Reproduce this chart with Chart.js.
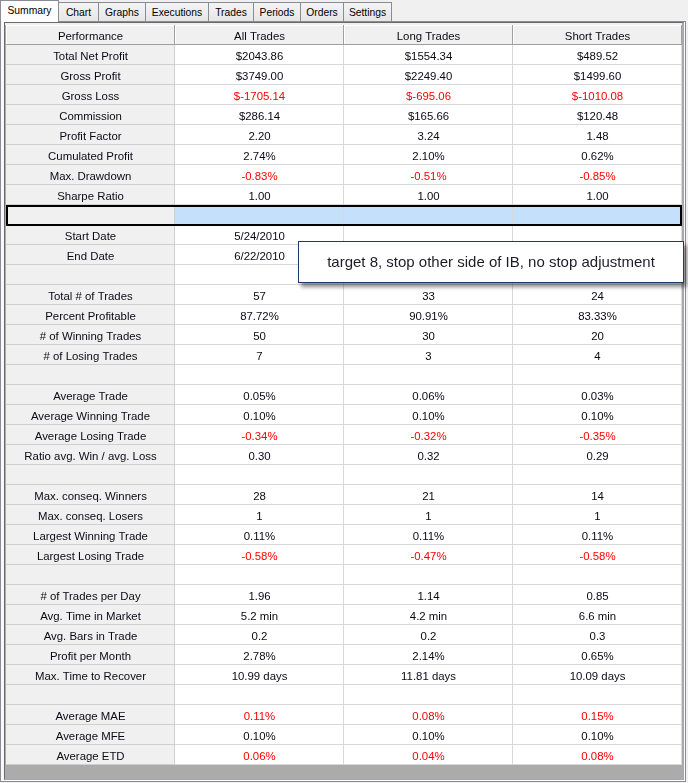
<!DOCTYPE html>
<html lang="en">
<head>
    <meta charset="UTF-8">
    <title>Performance Summary</title>
    <script src="https://cdn.jsdelivr.net/npm/chart.js"></script>
    <style>
        body { margin: 0; background: #f0f0f0; font-family: "Liberation Sans", Arial, sans-serif; }
        #page { position: relative; width: 688px; height: 783px; overflow: hidden; }
        .tab { position: absolute; top: 2px; height: 19px; box-sizing: border-box;
               border: 1px solid #898c95; border-bottom: none;
               background: linear-gradient(#f4f4f4, #e6e6e6);
               font-size: 10.3px; line-height: 19px; text-align: center; color: #000; }
        .tab.active { top: 0; height: 22px; background: #fdfdfd; z-index: 3; line-height: 20px; }
        #pane { position: absolute; left: 0; top: 21px; width: 686px; height: 761px; box-sizing: border-box;
                border: 1px solid #898c95; background: #f9f9f9; z-index: 2; }
        #grid { position: absolute; left: 4px; top: 22px; width: 680px; height: 758px; box-sizing: border-box;
                border: 1px solid #6a6a6a; border-right-color: #a8a8a8; border-bottom-color: #a8a8a8;
                background: #ababab; z-index: 2; }
        #table { position: absolute; left: 6px; top: 25px; z-index: 3; }
        #headTop { position: absolute; left: 5px; top: 23px; width: 677px; height: 2px; background: #f0f0f0; z-index: 3; }
        #note { position: absolute; left: 298px; top: 241px; width: 386px; height: 42px; box-sizing: border-box;
                border: 1px solid #1f3a68; background: #fff; z-index: 4;
                box-shadow: 3px 4px 4px rgba(0,0,0,0.45);
                font-size: 15px; line-height: 40px; text-align: center; color: #1d1d28; }
    </style>
</head>
<body>
<div id="page">
    <div class="tab active" style="left:0;width:59px;">Summary</div>
    <div class="tab" style="left:58px;width:41px;">Chart</div>
    <div class="tab" style="left:98px;width:48px;">Graphs</div>
    <div class="tab" style="left:145px;width:64px;">Executions</div>
    <div class="tab" style="left:208px;width:46px;">Trades</div>
    <div class="tab" style="left:253px;width:48px;">Periods</div>
    <div class="tab" style="left:300px;width:44px;">Orders</div>
    <div class="tab" style="left:343px;width:49px;">Settings</div>
    <div id="pane"></div>
    <div id="grid"></div>
    <div id="headTop"></div>
    <canvas id="table" width="676" height="740"></canvas>
    <div id="note">target 8, stop other side of IB, no stop adjustment</div>
</div>

<script>
    // Column headers
    const columns = ['Performance', 'All Trades', 'Long Trades', 'Short Trades'];

    // Row labels ('' = empty separator row)
    const metrics = [
        'Total Net Profit', 'Gross Profit', 'Gross Loss', 'Commission', 'Profit Factor',
        'Cumulated Profit', 'Max. Drawdown', 'Sharpe Ratio', '',
        'Start Date', 'End Date', '',
        'Total # of Trades', 'Percent Profitable', '# of Winning Trades', '# of Losing Trades', '',
        'Average Trade', 'Average Winning Trade', 'Average Losing Trade', 'Ratio avg. Win / avg. Loss', '',
        'Max. conseq. Winners', 'Max. conseq. Losers', 'Largest Winning Trade', 'Largest Losing Trade', '',
        '# of Trades per Day', 'Avg. Time in Market', 'Avg. Bars in Trade', 'Profit per Month', 'Max. Time to Recover', '',
        'Average MAE', 'Average MFE', 'Average ETD'
    ];

    const allTrades = [
        '$2043.86', '$3749.00', '$-1705.14', '$286.14', '2.20',
        '2.74%', '-0.83%', '1.00', '',
        '5/24/2010', '6/22/2010', '',
        '57', '87.72%', '50', '7', '',
        '0.05%', '0.10%', '-0.34%', '0.30', '',
        '28', '1', '0.11%', '-0.58%', '',
        '1.96', '5.2 min', '0.2', '2.78%', '10.99 days', '',
        '0.11%', '0.10%', '0.06%'
    ];

    const longTrades = [
        '$1554.34', '$2249.40', '$-695.06', '$165.66', '3.24',
        '2.10%', '-0.51%', '1.00', '',
        '', '', '',
        '33', '90.91%', '30', '3', '',
        '0.06%', '0.10%', '-0.32%', '0.32', '',
        '21', '1', '0.11%', '-0.47%', '',
        '1.14', '4.2 min', '0.2', '2.14%', '11.81 days', '',
        '0.08%', '0.10%', '0.04%'
    ];

    const shortTrades = [
        '$489.52', '$1499.60', '$-1010.08', '$120.48', '1.48',
        '0.62%', '-0.85%', '1.00', '',
        '', '', '',
        '24', '83.33%', '20', '4', '',
        '0.03%', '0.10%', '-0.35%', '0.29', '',
        '14', '1', '0.11%', '-0.58%', '',
        '0.85', '6.6 min', '0.3', '0.65%', '10.09 days', '',
        '0.15%', '0.10%', '0.08%'
    ];

    const series = [metrics, allTrades, longTrades, shortTrades];
    const rowLabels = [columns[0]].concat(metrics);
    const selectedRow = 9;                 // highlighted empty row under Sharpe Ratio
    const redMetrics = ['Average MAE', 'Average ETD'];

    function isRed(r, c) {
        if (r === 0 || c === 0) return false;
        const v = series[c][r - 1] || '';
        return v.startsWith('-') || v.startsWith('$-') || redMetrics.includes(metrics[r - 1]);
    }

    // Plugin that paints the grid cells using the chart's category scales
    const tablePlugin = {
        id: 'statsTable',
        beforeDraw(chart) {
            const ctx = chart.ctx;
            const xs = chart.scales.x, ys = chart.scales.y;
            const cw = xs.width / columns.length;
            const rh = ys.height / rowLabels.length;
            ctx.save();
            ctx.fillStyle = '#ffffff';
            ctx.fillRect(0, 0, chart.width, chart.height);

            for (let r = 0; r < rowLabels.length; r++) {
                const top = Math.round(ys.getPixelForValue(r) - rh / 2);
                for (let c = 0; c < columns.length; c++) {
                    const left = Math.round(xs.getPixelForValue(c) - cw / 2);
                    const w = Math.round(cw), h = Math.round(rh);
                    let bg = '#ffffff';
                    if (r === 0 || c === 0) bg = '#f0f0f0';
                    else if (r === selectedRow) bg = '#c4e0fb';
                    ctx.fillStyle = bg;
                    ctx.fillRect(left, top, w, h);

                    if (r === 0) {
                        // raised header cell
                        ctx.fillStyle = '#ffffff';
                        ctx.fillRect(left, top, w - 1, 1);
                        ctx.fillRect(left, top, 1, h - 1);
                        ctx.fillStyle = '#a0a0a0';
                        ctx.fillRect(left + w - 1, top, 1, h);
                        ctx.fillRect(left, top + h - 1, w, 1);
                    } else {
                        ctx.fillStyle = c === 0 ? '#cfcfcf' : '#d8d8d8';
                        ctx.fillRect(left + w - 1, top, 1, h);
                        ctx.fillRect(left, top + h - 1, w, 1);
                    }

                    const text = r === 0 ? columns[c] : series[c][r - 1];
                    if (text) {
                        ctx.font = '11.4px "Liberation Sans", Arial, sans-serif';
                        ctx.textAlign = 'center';
                        ctx.textBaseline = 'middle';
                        ctx.fillStyle = isRed(r, c) ? '#ff0000' : '#0a0a14';
                        ctx.fillText(text, xs.getPixelForValue(c), ys.getPixelForValue(r) + 1.5);
                    }
                }
            }

            // selection frame
            const st = Math.round(ys.getPixelForValue(selectedRow) - rh / 2);
            ctx.strokeStyle = '#000000';
            ctx.lineWidth = 2;
            ctx.strokeRect(1, st + 1, xs.width - 2, Math.round(rh) - 1);
            ctx.restore();
        }
    };

    new Chart(document.getElementById('table'), {
        type: 'bar',
        data: { labels: columns, datasets: [] },
        options: {
            responsive: false,
            animation: false,
            events: [],
            layout: { padding: 0 },
            plugins: { legend: { display: false }, tooltip: { enabled: false } },
            scales: {
                x: { type: 'category', labels: columns, offset: true, display: false },
                y: { type: 'category', labels: rowLabels, offset: true, display: false }
            }
        },
        plugins: [tablePlugin]
    });
</script>
</body>
</html>
